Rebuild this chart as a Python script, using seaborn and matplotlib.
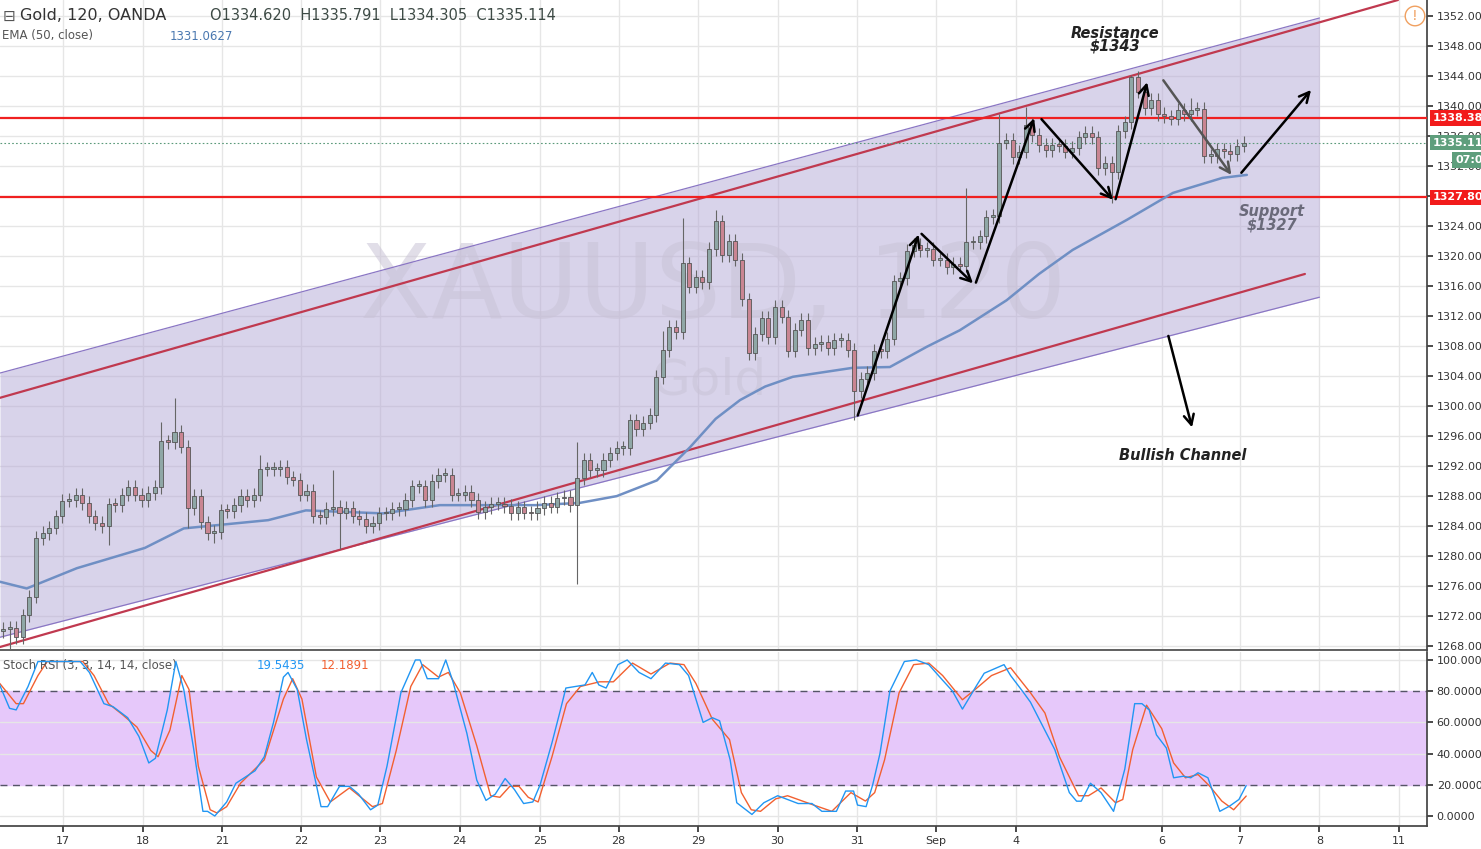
import numpy as np
import pandas as pd
import matplotlib
matplotlib.use("Agg")
import matplotlib.pyplot as plt
import matplotlib.transforms as mtransforms
import seaborn as sns

sns.set_theme(style="white")
plt.rcParams['font.family'] = ['DejaVu Sans']

# ---------------- data ----------------
closes = [
    1270.3,1270.4,1269.2,1272.1,1274.6,1282.4,1283.1,1283.8,1285.3,1287.4,
    1287.5,1288.2,1287.1,1285.3,1284.4,1284.0,1286.9,1286.8,1288.2,1289.2,
    1288.2,1287.5,1288.4,1289.2,1295.3,1295.2,1296.6,1294.6,1286.4,1288.0,
    1284.5,1283.1,1283.2,1286.1,1286.0,1286.8,1288.0,1287.5,1288.2,1291.6,
    1291.6,1291.6,1291.9,1290.5,1290.2,1288.2,1288.7,1285.3,1285.2,1286.3,
    1286.6,1285.8,1286.4,1285.3,1285.0,1284.0,1284.4,1285.7,1285.7,1286.3,
    1286.3,1287.5,1289.3,1289.3,1287.5,1290.0,1290.8,1290.8,1288.2,1288.2,
    1288.6,1287.5,1285.9,1286.5,1287.0,1287.0,1286.7,1285.7,1286.5,1285.8,
    1285.7,1286.4,1287.1,1286.6,1287.7,1287.9,1286.8,1290.4,1292.8,1291.5,
    1291.5,1292.8,1293.7,1294.4,1294.4,1298.1,1296.9,1297.8,1298.8,1303.9,
    1307.5,1310.6,1309.9,1319.0,1315.9,1317.2,1316.5,1320.9,1324.6,1320.1,
    1322.0,1319.5,1314.2,1307.1,1309.6,1311.7,1309.2,1313.2,1311.9,1307.4,
    1310.2,1311.5,1307.7,1308.3,1308.6,1307.7,1308.8,1308.8,1307.5,1302.0,
    1303.6,1304.4,1307.4,1307.3,1309.0,1316.6,1317.0,1320.7,1321.5,1320.8,
    1320.9,1319.5,1319.5,1318.5,1318.9,1318.7,1321.8,1321.8,1322.6,1325.2,
    1325.3,1335.1,1335.5,1333.2,1333.9,1337.5,1336.1,1334.8,1334.1,1334.8,
    1334.7,1333.9,1334.4,1335.8,1336.4,1335.8,1331.7,1332.4,1331.2,1336.6,
    1337.8,1343.8,1341.9,1339.7,1340.8,1338.9,1338.6,1338.3,1339.5,1338.9,
    1339.5,1339.6,1333.3,1333.3,1334.2,1334.0,1333.6,1334.7,1335.1,
]
first_open = 1270.0
wick_pad = 0.9
wick_high = {87: 1295.2, 26: 1301.1, 24: 1297.9, 108: 1326.1, 103: 1325.1,
             171: 1344.1, 155: 1339.9, 151: 1338.9, 146: 1329.1, 39: 1293.5,
             50: 1291.5, 100: 1310.0, 180: 1341.0}
wick_low = {87: 1276.3, 129: 1298.1, 168: 1327.1, 1: 1267.5, 28: 1283.7,
            16: 1281.5, 32: 1281.7, 51: 1281.0}

ema_x = [-0.5,3.6,11.2,21.5,27.4,40.2,45.9,57.6,66.2,80.8,87.4,93.0,99.1,104.1,108.0,111.7,
         115.5,119.7,128.8,134.4,140.0,145.0,152.1,157.0,162.1,170.3,177.3,184.8,188.5]
ema_y = [1276.6,1275.7,1278.4,1281.1,1283.7,1284.8,1286.1,1285.7,1286.8,1286.8,
         1287.1,1288.0,1290.1,1294.5,1298.3,1300.8,1302.6,1303.9,1305.1,1305.2,1307.9,1310.1,1314.1,
         1317.6,1320.8,1324.8,1328.4,1330.4,1330.8]

k_x = [-0.5,1.0,2.0,3.8,5.3,11.7,13.1,15.3,16.7,18.9,20.6,22.1,23.1,24.9,26.2,27.4,
       28.9,30.3,31.0,32.1,33.9,35.3,38.2,39.6,41.0,42.5,43.2,44.6,46.0,48.2,49.2,
       51.0,52.5,53.9,55.7,56.8,58.2,60.3,62.5,63.2,64.3,66.0,67.1,68.2,70.3,71.8,
       73.2,74.6,76.1,77.5,78.9,80.3,81.4,83.2,84.6,85.3,88.2,89.3,90.3,91.4,93.2,
       94.6,96.4,98.2,100.4,102.5,103.9,106.1,107.5,108.6,110.2,111.2,113.5,115.3,
       117.4,120.5,122.6,124.1,126.3,127.7,128.9,129.5,130.8,131.8,132.9,134.4,
       136.6,138.4,140.3,142.4,143.9,145.4,147.6,148.7,151.7,152.7,154.5,155.7,
       159.4,161.6,162.7,163.4,164.8,166.4,168.3,170.0,171.5,172.6,173.7,174.8,
       176.3,177.4,178.9,180.0,181.1,182.6,184.4,185.9,187.3,188.4]
k_y = [84,69,68,83,99,99,92,72,70,63,51,34,37,68,99,81,
       43,3,3,0,9,21,29,38,60,89,92,81,49,6,6,
       19,19,14,4,7,32,79,100,100,88,88,100,86,53,23,
       10,14,24,17,8,9,20,47,70,82,84,92,84,82,97,
       100,92,88,98,97,90,60,63,61,36,8.5,1,8.5,
       13,8,8,3,3,16,16,7,6,20,40,80,
       99,100,97,87,80,68.5,84,91.5,97,90,80,73,
       42.5,15,9.5,9.5,21,15,3,30,72,72,68,52,
       43.6,24.5,25.5,24.5,27.7,24.5,3,6.4,10.6,19.5]
d_x = [-0.5,2.0,3.1,5.3,6.7,12.1,13.8,16.0,18.1,20.3,22.4,23.5,25.3,27.1,28.2,29.6,
       31.4,32.4,33.9,36.0,39.6,42.5,43.9,45.3,47.5,49.6,52.5,56.0,57.5,59.6,61.8,
       63.6,66.0,67.5,69.3,71.8,73.9,75.3,76.8,78.2,79.6,81.1,83.2,85.4,87.5,90.4,
       92.5,95.4,98.2,101.1,103.2,105.0,107.5,110.1,111.9,113.4,114.8,117.1,118.9,
       122.6,125.6,128.5,130.7,132.1,133.6,135.8,138.0,140.3,142.4,145.4,147.3,
       149.8,152.7,155.7,157.9,160.1,163.0,164.5,166.4,168.6,169.7,171.2,173.3,
       175.6,177.4,179.2,181.1,182.9,184.7,186.5,188.4]
d_y = [85,72,72,90,99,99,90,72,65,57,42,38,55,90,81,32,
       4,2,6,21,36,75,88,75,25,9,18,6,8,42,83,
       97,89,92,79,45,13,12,19,19,12,9,38,72,83,86,
       86,98,91,98,97,85,62,49,15,4,3,11,13,
       7.4,3,15,9.6,15,36,79,97,98,90,74.5,81,
       90,95,79,66,38,13,13,18,8.5,10.6,42.5,71,
       56,34,24.5,26.6,19,9.6,4,12.8]

day_pos = [9.1,21.2,33.2,45.2,57.1,69.2,81.4,93.3,105.3,117.4,129.4,141.4,153.5,175.6,187.4,199.5,211.5]
day_lbl = ['17','18','21','22','23','24','25','28','29','30','31','Sep','4','6','7','8','11']

resistance = 1338.382
support = 1327.807
last_price = 1335.114

upper_purple = ([-0.45, 199.5], [1304.4, 1351.7])
lower_purple = ([-0.45, 199.5], [1269.2, 1314.5])
upper_red = ([-0.45, 211.4], [1301.1, 1354.1])
lower_red = ([-0.45, 197.3], [1267.9, 1317.6])

arrows = [((129.4,1298.4),(138.9,1323.2),'black'),
          ((138.9,1323.2),(147.3,1316.1),'black'),
          ((147.3,1316.1),(156.4,1338.7),'black'),
          ((157.1,1338.5),(168.5,1327.2),'black'),
          ((168.5,1327.2),(173.5,1343.5),'black'),
          ((175.6,1343.7),(186.4,1330.5),'#555555'),
          ((187.4,1330.8),(198.5,1342.4),'black'),
          ((176.5,1309.7),(180.3,1296.8),'black')]

# ---------------- figure ----------------
W, H = 1481, 849
fig = plt.figure(figsize=(W/100, H/100), dpi=100)
axw = 1427/W
ax = fig.add_axes([0, 1-650/H, axw, 650/H])
ax2 = fig.add_axes([0, 1-826/H, axw, 174/H], sharex=ax)

xmin, xmax = -0.45, 215.8
ax.set_xlim(xmin, xmax)
ax.set_ylim(1267.5, 1354.1)

gridc = '#e6e6e6'
for a in (ax, ax2):
    a.set_facecolor('white')
    for x in day_pos:
        a.axvline(x, color=gridc, lw=1, zorder=0)

for p in range(1268, 1353, 4):
    ax.axhline(p, color=gridc, lw=1, zorder=0)

# channel
ax.fill_between(upper_purple[0], lower_purple[1], upper_purple[1], color='#b3a8d6', alpha=0.5, zorder=1, lw=0)
ax.plot(*upper_purple, color='#8a76c4', lw=0.9, zorder=2)
ax.plot(*lower_purple, color='#8a76c4', lw=0.9, zorder=2)
ax.plot(*upper_red, color='#c0394f', lw=1.6, zorder=3)
ax.plot(*lower_red, color='#c0394f', lw=1.6, zorder=3)

# watermark
ax.text(0.5, 0.555, 'XAUUSD, 120', transform=ax.transAxes, ha='center', va='center',
        fontsize=75, color='#c9c3d6', alpha=0.55, zorder=1)
ax.text(0.497, 0.415, 'Gold', transform=ax.transAxes, ha='center', va='center',
        fontsize=36, color='#c9c3d6', alpha=0.55, zorder=1)

# horizontal levels
ax.axhline(resistance, color='#f02020', lw=1.6, zorder=4)
ax.axhline(support, color='#f02020', lw=1.6, zorder=4)
ax.axhline(last_price, color='#5b9a7a', lw=0.8, ls=(0, (1.5, 2)), zorder=4)

# EMA
sns.lineplot(x=ema_x, y=ema_y, ax=ax, color='#6f8fc4', lw=1.8, zorder=5, estimator=None, sort=False)

# candles
opens = [first_open] + closes[:-1]
for i, (o, c) in enumerate(zip(opens, closes)):
    hi = wick_high.get(i, max(o, c) + wick_pad)
    lo = wick_low.get(i, min(o, c) - wick_pad)
    up = c >= o
    face = '#8fa7a6' if up else '#c98592'
    ax.vlines(i, lo, hi, color='#666666', lw=0.8, zorder=6)
    ax.bar(i, max(abs(c-o), 0.25), bottom=min(o, c), width=0.62, color=face,
           edgecolor='#555555', linewidth=0.6, zorder=7)

# arrows
for (x0, y0), (x1, y1), col in arrows:
    ax.annotate('', xy=(x1, y1), xytext=(x0, y0),
                arrowprops=dict(arrowstyle='->', color=col, lw=1.8, mutation_scale=18), zorder=9)

ax.text(168.5, 1348.8, 'Resistance\n$1343', ha='center', va='center', fontsize=10.5,
        fontstyle='italic', fontweight='bold', color='#222222', linespacing=0.85)
ax.text(192.3, 1325.0, 'Support\n$1327', ha='center', va='center', fontsize=10.5,
        fontstyle='italic', fontweight='bold', color='#6a6a7a', linespacing=0.85)
ax.text(178.8, 1293.4, 'Bullish Channel', ha='center', va='center', fontsize=10.5,
        fontstyle='italic', fontweight='bold', color='#222222')

# right axis
ax.yaxis.tick_right()
ax.set_yticks(range(1268, 1353, 4))
ax.set_yticklabels([f'{v}.000' for v in range(1268, 1353, 4)])
ax.tick_params(axis='y', labelsize=8, colors='#333333', length=4, pad=3, direction='out', right=True)
ax.tick_params(axis='x', bottom=False, labelbottom=False)
for s in ['top', 'left']:
    ax.spines[s].set_visible(False)
ax.spines['right'].set_color('#444444')
ax.spines['bottom'].set_color('#444444')
ax.spines['bottom'].set_linewidth(1.2)

tr = mtransforms.blended_transform_factory(ax.transAxes, ax.transData)
for val, col, txt in [(resistance, '#f21b1b', '1338.382'), (support, '#f21b1b', '1327.807'),
                      (last_price, '#5e9e7c', '1335.114')]:
    ax.text(1.004, val, txt, transform=tr, ha='left', va='center', fontsize=8, color='white',
            fontweight='bold', bbox=dict(boxstyle='square,pad=0.25', fc=col, ec='none'), zorder=10, clip_on=False)
fig.text(1455/W, 1-160/H, '07:08', ha='left', va='center', fontsize=8, color='white',
         fontweight='bold', bbox=dict(boxstyle='square,pad=0.25', fc='#5e9e7c', ec='none'), zorder=10)

# header texts
fig.text(3/W, 1-16/H, '⊟', fontsize=11, color='#555555', va='center')
fig.text(20/W, 1-16/H, 'Gold, 120, OANDA', fontsize=11.5, color='#333333', va='center')
fig.text(210/W, 1-16/H, 'O1334.620  H1335.791  L1334.305  C1335.114', fontsize=10.5, color='#3d4a45', va='center')
fig.text(2/W, 1-36/H, 'EMA (50, close)', fontsize=8.5, color='#555555', va='center')
fig.text(170/W, 1-36/H, '1331.0627', fontsize=8.5, color='#4a78b0', va='center')
fig.text(1415/W, 1-16/H, '!', fontsize=10, color='#f0a060', va='center', ha='center',
         bbox=dict(boxstyle='circle,pad=0.2', fc='white', ec='#f0a060'))

# ---------------- stoch panel ----------------
ax2.set_ylim(-6.4, 105.1)
ax2.axhspan(20, 80, color='#e6c8fa', zorder=0)
for v in (0, 40, 60, 100):
    ax2.axhline(v, color=gridc, lw=1, zorder=0)
ax2.axhline(20, color='#555566', lw=1, ls=(0, (5, 4)), zorder=1)
ax2.axhline(80, color='#555566', lw=1, ls=(0, (5, 4)), zorder=1)
sns.lineplot(x=d_x, y=d_y, ax=ax2, color='#f26030', lw=1.0, estimator=None, sort=False, zorder=3)
sns.lineplot(x=k_x, y=k_y, ax=ax2, color='#2196f3', lw=1.0, estimator=None, sort=False, zorder=4)
ax2.yaxis.tick_right()
ax2.set_yticks([0, 20, 40, 60, 80, 100])
ax2.set_yticklabels(['0.0000', '20.0000', '40.0000', '60.0000', '80.0000', '100.0000'])
ax2.tick_params(axis='y', labelsize=8, colors='#333333', length=4, pad=3, right=True)
ax2.set_xticks(day_pos)
ax2.set_xticklabels(day_lbl)
ax2.tick_params(axis='x', labelsize=8, colors='#333333', length=4, bottom=True)
ax2.set_xlabel('')
ax2.set_ylabel('')
ax.set_xlabel('')
ax.set_ylabel('')
for s in ['top', 'left']:
    ax2.spines[s].set_visible(False)
ax2.spines['right'].set_color('#444444')
ax2.spines['bottom'].set_color('#444444')
ax2.text(0.002, 0.92, 'Stoch RSI (3, 3, 14, 14, close)', transform=ax2.transAxes, fontsize=8.5,
         color='#555555', va='center')
ax2.text(0.18, 0.92, '19.5435', transform=ax2.transAxes, fontsize=8.5, color='#2196f3', va='center')
ax2.text(0.2245, 0.92, '12.1891', transform=ax2.transAxes, fontsize=8.5, color='#f26030', va='center')
ax2.set_xlim(xmin, xmax)

fig.savefig('out.png', dpi=100, facecolor='white')
